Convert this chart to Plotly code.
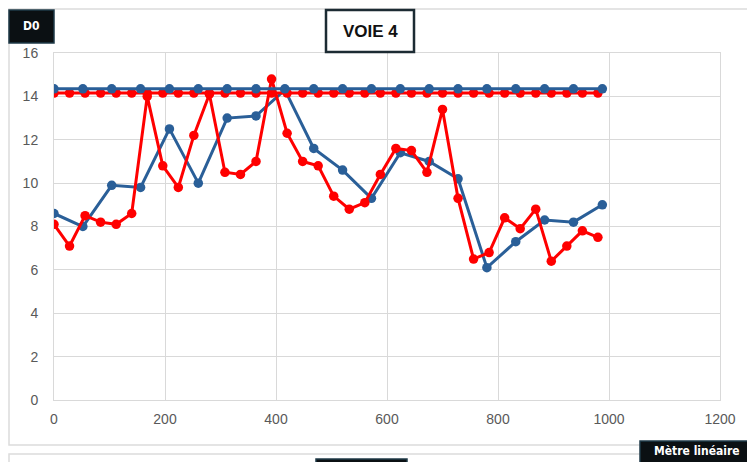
import plotly.graph_objects as go

# ---- data ----
blue_x = [0, 52, 104, 156, 208, 260, 312, 364, 416, 468, 520, 572, 624, 676, 728, 780, 832, 884, 936, 988]
blue_lower = [8.6, 8.0, 9.9, 9.8, 12.5, 10.0, 13.0, 13.1, 14.3, 11.6, 10.6, 9.3, 11.4, 11.0, 10.2, 6.1, 7.3, 8.3, 8.2, 9.0]
blue_upper = [14.35, 14.35, 14.35, 14.35, 14.35, 14.35, 14.35, 14.35, 14.35, 14.35,
              14.35, 14.35, 14.35, 14.35, 14.35, 14.35, 14.35, 14.35, 14.35, 14.35]

red_x = [0, 28, 56, 84, 112, 140, 168, 196, 224, 252, 280, 308, 336, 364, 392, 420, 448, 476,
         504, 532, 560, 588, 616, 644, 672, 700, 728, 756, 784, 812, 840, 868, 896, 924, 952, 980]
red_lower = [8.1, 7.1, 8.5, 8.2, 8.1, 8.6, 14.0, 10.8, 9.8, 12.2, 14.1, 10.5, 10.4, 11.0, 14.8, 12.3, 11.0, 10.8,
             9.4, 8.8, 9.1, 10.4, 11.6, 11.5, 10.5, 13.4, 9.3, 6.5, 6.8, 8.4, 7.9, 8.8, 6.4, 7.1, 7.8, 7.5]
red_upper = [14.15, 14.15, 14.15, 14.15, 14.15, 14.15, 14.15, 14.15, 14.15, 14.15, 14.15, 14.15,
             14.15, 14.15, 14.15, 14.15, 14.15, 14.15, 14.15, 14.15, 14.15, 14.15, 14.15, 14.15,
             14.15, 14.15, 14.15, 14.15, 14.15, 14.15, 14.15, 14.15, 14.15, 14.15, 14.15, 14.15]

x_ticks = [0, 200, 400, 600, 800, 1000, 1200]
y_ticks = [0, 2, 4, 6, 8, 10, 12, 14, 16]

title_text = "VOIE 4"
y_label = "D0"
x_label = "Mètre linéaire"

BLUE = "#2a5f98"
RED = "#ff0000"

# the page body adds an 8px offset; lay out in screen pixels
OFF = 8
SCREEN_W, SCREEN_H = 755, 462
W, H = SCREEN_W - OFF, SCREEN_H - OFF
PL, PR, PT, PB = 54, 720, 53, 400      # plot area in screen pixels
L = PL - OFF
T = PT - OFF
PW = PR - PL
PH = PB - PT
R = W - L - PW
B = H - T - PH


def px(xp):
    return (xp - PL) / PW


def py(yp):
    return (PB - yp) / PH


fig = go.Figure()


def add(x, y, color):
    fig.add_trace(go.Scatter(x=x, y=y, mode="lines+markers",
                             line=dict(color=color, width=3),
                             marker=dict(color=color, size=9.5),
                             showlegend=False, hoverinfo="skip"))


add(blue_x, blue_lower, BLUE)
add(red_x, red_lower, RED)
add(red_x, red_upper, RED)
add(blue_x, blue_upper, BLUE)

GRID = "#d9d9d9"
tickfont = dict(family="Liberation Sans, Arial, sans-serif", size=14, color="#595959")

fig.update_xaxes(range=[0, 1200], tickvals=x_ticks, showgrid=True, gridcolor=GRID, gridwidth=1,
                 zeroline=False, showline=True, linecolor=GRID, linewidth=1, mirror=True,
                 ticks="", tickfont=tickfont, ticklabelstandoff=6)
fig.update_yaxes(range=[0, 16], tickvals=y_ticks, showgrid=True, gridcolor=GRID, gridwidth=1,
                 zeroline=False, showline=True, linecolor=GRID, linewidth=1, mirror=True,
                 ticks="", tickfont=tickfont, ticklabelstandoff=12)

shapes = []
# outer chart frame
shapes.append(dict(type="rect", xref="paper", yref="paper",
                   x0=px(9), x1=px(770), y0=py(445), y1=py(9),
                   line=dict(color="#dcdcdc", width=1.5), fillcolor="rgba(0,0,0,0)", layer="below"))
# next chart frame (partially visible)
shapes.append(dict(type="rect", xref="paper", yref="paper",
                   x0=px(9), x1=px(770), y0=py(480), y1=py(454),
                   line=dict(color="#dcdcdc", width=1.5), fillcolor="rgba(0,0,0,0)", layer="below"))
# next chart black label box
shapes.append(dict(type="rect", xref="paper", yref="paper",
                   x0=px(316), x1=px(407), y0=py(480), y1=py(459),
                   line=dict(color="#1f3a48", width=1.5), fillcolor="#0b1013"))
# title box
shapes.append(dict(type="rect", xref="paper", yref="paper",
                   x0=px(326), x1=px(414), y0=py(52), y1=py(10),
                   line=dict(color="#1c2b33", width=2.5), fillcolor="white"))
# D0 box
shapes.append(dict(type="rect", xref="paper", yref="paper",
                   x0=px(9), x1=px(54), y0=py(43), y1=py(10),
                   line=dict(color="#1f3a48", width=1.5), fillcolor="#0b1013"))
# Mètre linéaire box
shapes.append(dict(type="rect", xref="paper", yref="paper",
                   x0=px(640), x1=px(753), y0=py(475), y1=py(441),
                   line=dict(color="#1f3a48", width=1.5), fillcolor="#0b1013"))

annotations = [
    dict(text="<b>" + title_text + "</b>", xref="paper", yref="paper", x=px(370), y=py(31),
         showarrow=False, xanchor="center", yanchor="middle",
         font=dict(family="Liberation Sans, Arial, sans-serif", size=17, color="#111111")),
    dict(text="<b>" + y_label + "</b>", xref="paper", yref="paper", x=px(31), y=py(26),
         showarrow=False, xanchor="center", yanchor="middle",
         font=dict(family="DejaVu Sans Condensed, Liberation Sans, sans-serif", size=12, color="white")),
    dict(text="<b>" + x_label + "</b>", xref="paper", yref="paper", x=px(697), y=py(451),
         showarrow=False, xanchor="center", yanchor="middle",
         font=dict(family="DejaVu Sans Condensed, Liberation Sans, sans-serif", size=12, color="white")),
]

fig.update_layout(width=W, height=H, margin=dict(l=L, r=R, t=T, b=B, pad=0),
                  paper_bgcolor="white", plot_bgcolor="white",
                  shapes=shapes, annotations=annotations, showlegend=False)

fig.write_html("out.html")
